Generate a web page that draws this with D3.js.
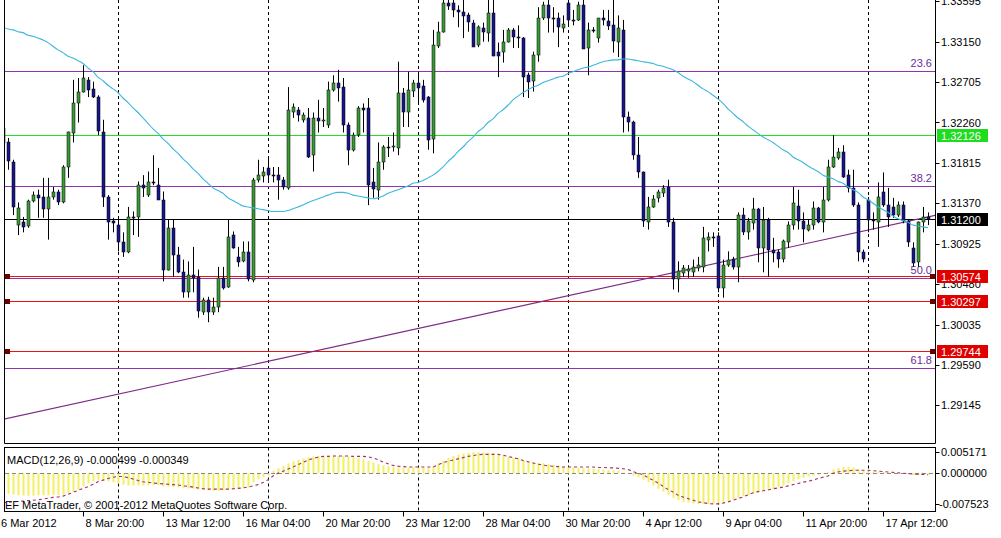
<!DOCTYPE html>
<html><head><meta charset="utf-8">
<script src="https://cdn.jsdelivr.net/npm/d3@7"></script>
<style>html,body{margin:0;padding:0;background:#fff;overflow:hidden}svg{display:block;font-family:"Liberation Sans",Arial,sans-serif}</style>
</head><body><svg id="c" width="1001" height="538"></svg>
<script>
// ---------- DATA (EURUSD H4) ----------
const barOpen = [
1.3220,1.3204,1.3183,1.3113,1.3116,1.3111,1.3139,1.3146,1.3144,1.3131,
1.3143,1.3149,1.3138,1.3176,1.3215,1.3248,1.3260,1.3273,1.3263,1.3254,
1.3216,1.3144,1.3117,1.3113,1.3094,1.3083,1.3122,1.3122,1.3157,1.3146,
1.3160,1.3157,1.3141,1.3064,1.3110,1.3080,1.3061,1.3039,1.3058,1.3056,
1.3018,1.3031,1.3017,1.3023,1.3055,1.3045,1.3102,1.3078,1.3073,1.3083,
1.3053,1.3163,1.3168,1.3176,1.3168,1.3168,1.3163,1.3154,1.3237,1.3240,
1.3229,1.3231,1.3190,1.3231,1.3228,1.3223,1.3262,1.3269,1.3265,1.3223,
1.3196,1.3212,1.3242,1.3242,1.3160,1.3152,1.3183,1.3199,1.3199,1.3198,
1.3259,1.3238,1.3261,1.3270,1.3266,1.3254,1.3207,1.3311,1.3326,1.3358,
1.3358,1.3350,1.3348,1.3344,1.3336,1.3311,1.3330,1.3325,1.3347,1.3304,
1.3304,1.3315,1.3328,1.3320,1.3319,1.3278,1.3271,1.3300,1.3341,1.3355,
1.3341,1.3341,1.3331,1.3358,1.3339,1.3339,1.3355,1.3308,1.3328,1.3319,
1.3341,1.3338,1.3333,1.3315,1.3328,1.3232,1.3226,1.3190,1.3171,1.3117,
1.3133,1.3142,1.3149,1.3155,1.3116,1.3053,1.3061,1.3063,1.3061,1.3066,
1.3067,1.3097,1.3100,1.3101,1.3044,1.3069,1.3076,1.3067,1.3124,1.3105,
1.3116,1.3131,1.3088,1.3119,1.3086,1.3083,1.3075,1.3094,1.3113,1.3134,
1.3117,1.3108,1.3113,1.3132,1.3117,1.3141,1.3177,1.3187,1.3193,1.3168,
1.3154,1.3135,1.3083,1.3141,1.3119,1.3116,1.3149,1.3135,1.3133,1.3124,
1.3135,1.3117,1.3088,1.3072,1.3117,1.3122];
const barHigh = [
1.3223,1.3209,1.3185,1.3138,1.3122,1.3141,1.3150,1.3152,1.3165,1.3165,
1.3155,1.3152,1.3179,1.3216,1.3273,1.3275,1.3289,1.3276,1.3271,1.3256,
1.3229,1.3146,1.3121,1.3122,1.3105,1.3133,1.3128,1.3161,1.3168,1.3172,
1.3190,1.3176,1.3150,1.3119,1.3119,1.3089,1.3075,1.3073,1.3089,1.3064,
1.3033,1.3034,1.3033,1.3067,1.3067,1.3119,1.3106,1.3089,1.3095,1.3095,
1.3165,1.3185,1.3177,1.3187,1.3177,1.3177,1.3166,1.3265,1.3247,1.3243,
1.3237,1.3242,1.3237,1.3251,1.3242,1.3271,1.3278,1.3284,1.3275,1.3226,
1.3215,1.3244,1.3247,1.3253,1.3176,1.3204,1.3201,1.3210,1.3215,1.3293,
1.3264,1.3282,1.3273,1.3282,1.3273,1.3255,1.3328,1.3337,1.3361,1.3361,
1.3361,1.3355,1.3361,1.3347,1.3339,1.3333,1.3336,1.3361,1.3361,1.3314,
1.3328,1.3330,1.3330,1.3333,1.3320,1.3281,1.3304,1.3353,1.3359,1.3361,
1.3353,1.3347,1.3344,1.3361,1.3350,1.3359,1.3361,1.3336,1.3331,1.3341,
1.3350,1.3350,1.3361,1.3344,1.3339,1.3238,1.3228,1.3210,1.3172,1.3144,
1.3146,1.3152,1.3157,1.3163,1.3121,1.3073,1.3069,1.3069,1.3075,1.3078,
1.3111,1.3105,1.3105,1.3105,1.3075,1.3084,1.3078,1.3127,1.3132,1.3121,
1.3143,1.3132,1.3133,1.3121,1.3099,1.3086,1.3097,1.3117,1.3155,1.3152,
1.3127,1.3119,1.3139,1.3133,1.3155,1.3185,1.3212,1.3198,1.3201,1.3174,
1.3174,1.3138,1.3086,1.3144,1.3127,1.3160,1.3171,1.3154,1.3143,1.3139,
1.3139,1.3119,1.3094,1.3117,1.3133,1.3127];
const barLow = [
1.3201,1.3174,1.3124,1.3102,1.3105,1.3110,1.3138,1.3121,1.3121,1.3097,
1.3141,1.3135,1.3137,1.3165,1.3204,1.3226,1.3259,1.3254,1.3253,1.3212,
1.3133,1.3097,1.3105,1.3084,1.3078,1.3082,1.3102,1.3100,1.3144,1.3144,
1.3157,1.3141,1.3051,1.3063,1.3056,1.3060,1.3033,1.3033,1.3039,1.3011,
1.3014,1.3006,1.3014,1.3017,1.3042,1.3044,1.3087,1.3067,1.3072,1.3051,
1.3050,1.3160,1.3160,1.3160,1.3160,1.3141,1.3152,1.3152,1.3231,1.3227,
1.3226,1.3187,1.3172,1.3215,1.3221,1.3220,1.3260,1.3249,1.3215,1.3179,
1.3194,1.3210,1.3215,1.3135,1.3143,1.3141,1.3174,1.3188,1.3194,1.3190,
1.3221,1.3221,1.3254,1.3248,1.3248,1.3196,1.3192,1.3308,1.3325,1.3350,
1.3342,1.3331,1.3319,1.3326,1.3310,1.3309,1.3315,1.3315,1.3299,1.3276,
1.3292,1.3314,1.3308,1.3308,1.3254,1.3253,1.3260,1.3293,1.3339,1.3325,
1.3325,1.3309,1.3325,1.3333,1.3333,1.3338,1.3307,1.3278,1.3325,1.3314,
1.3333,1.3328,1.3303,1.3298,1.3215,1.3216,1.3185,1.3165,1.3111,1.3108,
1.3132,1.3138,1.3144,1.3111,1.3042,1.3039,1.3056,1.3055,1.3056,1.3062,
1.3061,1.3084,1.3089,1.3039,1.3033,1.3067,1.3064,1.3050,1.3102,1.3097,
1.3108,1.3072,1.3061,1.3056,1.3072,1.3066,1.3072,1.3088,1.3108,1.3108,
1.3094,1.3106,1.3108,1.3115,1.3105,1.3139,1.3176,1.3185,1.3165,1.3149,
1.3133,1.3073,1.3072,1.3105,1.3108,1.3089,1.3133,1.3111,1.3121,1.3122,
1.3115,1.3089,1.3067,1.3067,1.3105,1.3113];
const barClose = [
1.3204,1.3183,1.3133,1.3132,1.3111,1.3139,1.3146,1.3143,1.3131,1.3144,
1.3149,1.3138,1.3177,1.3215,1.3248,1.3260,1.3275,1.3262,1.3254,1.3216,
1.3144,1.3117,1.3115,1.3094,1.3083,1.3122,1.3121,1.3157,1.3154,1.3160,
1.3159,1.3141,1.3064,1.3110,1.3080,1.3061,1.3039,1.3058,1.3055,1.3018,
1.3031,1.3018,1.3023,1.3055,1.3044,1.3100,1.3088,1.3073,1.3083,1.3053,
1.3163,1.3168,1.3172,1.3168,1.3167,1.3163,1.3155,1.3240,1.3243,1.3234,
1.3234,1.3188,1.3231,1.3228,1.3229,1.3262,1.3270,1.3264,1.3223,1.3196,
1.3212,1.3242,1.3240,1.3157,1.3152,1.3183,1.3199,1.3198,1.3200,1.3259,
1.3238,1.3262,1.3270,1.3265,1.3251,1.3207,1.3311,1.3326,1.3358,1.3355,
1.3350,1.3348,1.3344,1.3336,1.3310,1.3331,1.3326,1.3347,1.3300,1.3300,
1.3315,1.3328,1.3320,1.3319,1.3276,1.3270,1.3300,1.3341,1.3355,1.3341,
1.3340,1.3331,1.3335,1.3339,1.3338,1.3355,1.3307,1.3328,1.3327,1.3341,
1.3339,1.3333,1.3315,1.3330,1.3232,1.3226,1.3190,1.3171,1.3117,1.3133,
1.3142,1.3149,1.3154,1.3116,1.3053,1.3062,1.3066,1.3065,1.3067,1.3069,
1.3099,1.3100,1.3099,1.3044,1.3069,1.3075,1.3067,1.3124,1.3105,1.3117,
1.3131,1.3088,1.3119,1.3086,1.3083,1.3075,1.3095,1.3113,1.3137,1.3117,
1.3108,1.3113,1.3132,1.3117,1.3141,1.3177,1.3188,1.3194,1.3166,1.3154,
1.3135,1.3083,1.3075,1.3119,1.3118,1.3144,1.3135,1.3122,1.3124,1.3135,
1.3117,1.3094,1.3072,1.3116,1.3122,1.3120];
const maValues = [
1.3331,1.3329,1.3328,1.3326,1.3325,1.3322,1.3321,1.3319,1.3317,1.3314,
1.3310,1.3306,1.3303,1.3299,1.3297,1.3294,1.3291,1.3286,1.3282,1.3276,
1.3272,1.3267,1.3263,1.3259,1.3253,1.3248,1.3242,1.3237,1.3231,1.3225,
1.3219,1.3214,1.3208,1.3203,1.3197,1.3192,1.3186,1.3181,1.3175,1.3170,
1.3164,1.3159,1.3154,1.3151,1.3148,1.3143,1.3140,1.3137,1.3134,1.3133,
1.3132,1.3131,1.3130,1.3129,1.3128,1.3128,1.3128,1.3129,1.3131,1.3133,
1.3135,1.3138,1.3140,1.3142,1.3144,1.3146,1.3148,1.3149,1.3149,1.3148,
1.3146,1.3145,1.3144,1.3143,1.3142,1.3143,1.3145,1.3148,1.3150,1.3152,
1.3154,1.3156,1.3159,1.3160,1.3162,1.3165,1.3168,1.3172,1.3177,1.3183,
1.3188,1.3194,1.3199,1.3205,1.3210,1.3216,1.3220,1.3226,1.3230,1.3236,
1.3240,1.3245,1.3251,1.3255,1.3259,1.3262,1.3265,1.3267,1.3270,1.3272,
1.3274,1.3276,1.3277,1.3280,1.3282,1.3284,1.3286,1.3287,1.3289,1.3291,
1.3293,1.3294,1.3295,1.3295,1.3296,1.3296,1.3295,1.3294,1.3293,1.3292,
1.3291,1.3289,1.3288,1.3286,1.3284,1.3281,1.3277,1.3274,1.3271,1.3267,
1.3263,1.3260,1.3256,1.3252,1.3247,1.3241,1.3236,1.3231,1.3227,1.3222,
1.3218,1.3214,1.3210,1.3207,1.3204,1.3200,1.3196,1.3193,1.3188,1.3185,
1.3182,1.3178,1.3175,1.3172,1.3168,1.3166,1.3164,1.3161,1.3159,1.3155,
1.3152,1.3149,1.3144,1.3141,1.3137,1.3133,1.3130,1.3127,1.3123,1.3120,
1.3118,1.3116,1.3113,1.3112,1.3111,1.3110];
const macdMain = [
-0.0048,-0.0050,-0.0052,-0.0054,-0.0055,-0.0055,-0.0055,-0.0054,-0.0054,-0.0054,
-0.0053,-0.0053,-0.0052,-0.0050,-0.0046,-0.0040,-0.0032,-0.0025,-0.0020,-0.0018,
-0.0018,-0.0020,-0.0022,-0.0025,-0.0028,-0.0030,-0.0030,-0.0030,-0.0030,-0.0030,
-0.0029,-0.0029,-0.0032,-0.0033,-0.0034,-0.0035,-0.0036,-0.0037,-0.0038,-0.0040,
-0.0041,-0.0042,-0.0043,-0.0043,-0.0042,-0.0040,-0.0038,-0.0037,-0.0036,-0.0035,
-0.0022,-0.0015,-0.0010,-0.0004,0.0006,0.0012,0.0018,0.0024,0.0029,0.0033,
0.0036,0.0039,0.0041,0.0042,0.0042,0.0043,0.0043,0.0042,0.0042,0.0041,
0.0039,0.0037,0.0034,0.0030,0.0026,0.0022,0.0019,0.0017,0.0015,0.0014,
0.0013,0.0013,0.0014,0.0014,0.0013,0.0012,0.0017,0.0024,0.0031,0.0037,
0.0042,0.0045,0.0048,0.0050,0.0051,0.005171,0.0051,0.0050,0.0049,0.0046,
0.0043,0.0040,0.0037,0.0035,0.0031,0.0028,0.0026,0.0025,0.0024,0.0022,
0.0020,0.0018,0.0016,0.0015,0.0014,0.0013,0.0012,0.0011,0.0010,0.0010,
0.0009,0.0008,0.0007,0.0006,0.0002,-0.0002,-0.0006,-0.0010,-0.0016,-0.0022,
-0.0030,-0.0038,-0.0045,-0.0052,-0.0060,-0.0066,-0.0070,-0.0072,-0.0074,-0.0075,
-0.007523,-0.0075,-0.0074,-0.0073,-0.0071,-0.0068,-0.0064,-0.0060,-0.0056,-0.0053,
-0.0050,-0.0047,-0.0044,-0.0041,-0.0038,-0.0034,-0.0030,-0.0025,-0.0020,-0.0015,
-0.0011,-0.0008,-0.0006,-0.0004,-0.0002,0.0003,0.0009,0.0013,0.0015,0.0015,
0.0014,0.0010,0.0006,0.0004,0.0003,0.0004,0.0003,0.0002,0.0001,-0.0001,
-0.0002,-0.0003,-0.0005,-0.0005,-0.0005,-0.000499];
const macdSignal = [
-0.0072,-0.0071,-0.0070,-0.0069,-0.0068,-0.0067,-0.0066,-0.0065,-0.0063,-0.0061,
-0.0059,-0.0058,-0.0056,-0.0052,-0.0047,-0.0042,-0.0037,-0.0033,-0.0027,-0.0021,
-0.0017,-0.0013,-0.0010,-0.0008,-0.0008,-0.0011,-0.0014,-0.0018,-0.0021,-0.0022,
-0.0024,-0.0025,-0.0026,-0.0027,-0.0028,-0.0029,-0.0031,-0.0032,-0.0034,-0.0036,
-0.0038,-0.0039,-0.0039,-0.0039,-0.0039,-0.0039,-0.0038,-0.0037,-0.0036,-0.0034,
-0.0031,-0.0028,-0.0023,-0.0016,-0.0007,0.0000,0.0005,0.0010,0.0015,0.0021,
0.0026,0.0032,0.0036,0.0039,0.0041,0.0041,0.0042,0.0042,0.0042,0.0042,
0.0041,0.0041,0.0041,0.0040,0.0037,0.0033,0.0027,0.0023,0.0019,0.0017,
0.0016,0.0015,0.0015,0.0015,0.0015,0.0015,0.0015,0.0020,0.0026,0.0029,
0.0032,0.0035,0.0038,0.0041,0.0043,0.0045,0.0046,0.0046,0.0046,0.0046,
0.0044,0.0041,0.0038,0.0035,0.0031,0.0028,0.0025,0.0022,0.0020,0.0018,
0.0017,0.0016,0.0015,0.0015,0.0015,0.0015,0.0015,0.0015,0.0015,0.0014,
0.0014,0.0013,0.0013,0.0012,0.0011,0.0009,0.0004,0.0000,-0.0004,-0.0011,
-0.0017,-0.0024,-0.0032,-0.0040,-0.0046,-0.0054,-0.0058,-0.0062,-0.0066,-0.0070,
-0.0072,-0.0074,-0.0075,-0.0075,-0.0073,-0.0070,-0.0066,-0.0062,-0.0058,-0.0053,
-0.0048,-0.0045,-0.0043,-0.0041,-0.0038,-0.0036,-0.0034,-0.0031,-0.0028,-0.0025,
-0.0022,-0.0020,-0.0017,-0.0013,-0.0010,-0.0007,0.0000,0.0003,0.0005,0.0006,
0.0007,0.0007,0.0007,0.0007,0.0006,0.0005,0.0004,0.0003,0.0002,0.0001,
0.0000,-0.0001,-0.0002,-0.0003,-0.0003,-0.000349];

const priceTicks = [1.33595,1.33150,1.32705,1.32260,1.31815,1.31370,1.30925,1.30480,1.30035,1.29590,1.29145];
const macdTicks = [0.005171,0.000000,-0.007523];
const timeLabels = ["6 Mar 2012","8 Mar 20:00","13 Mar 12:00","16 Mar 04:00","20 Mar 20:00","23 Mar 12:00","28 Mar 04:00","30 Mar 20:00","4 Apr 12:00","9 Apr 04:00","11 Apr 20:00","17 Apr 12:00"];
const timeLabelBars = [0,16,32,48,64,80,96,112,128,144,160,176];
const gridBars = [23,53,83,113,143,173];
const fibNames = ["23.6","38.2","50.0","61.8"];
const fibPrices = [1.3283,1.3156,1.30545,1.2956];
const levelPrices = [1.32126,1.31200,1.30574,1.30297,1.29744];
const levelKinds = ["green","bid","red","red","red"];
const trendBars = [0,185];
const trendPrices = [1.2899,1.3122];
const macdTitle = "MACD(12,26,9) -0.000499 -0.000349";
const copyright = "EF MetaTrader, \u00A9 2001-2012 MetaQuotes Software Corp.";

// ---------- LAYOUT ----------
const svg = d3.select("#c");
const L = 4.5, R = 935.5, MAINB = 443.5, MT = 447.5, MB = 511.5;
const x = d3.scaleLinear().domain([0, 185]).range([3, 928]);
const y = d3.scaleLinear().domain([1.33595, 1.29145]).range([1.3, 405.3]);
const ym = d3.scaleLinear().domain([0.005171, -0.007523]).range([452, 504]);
const C = {bull:"#3a9a35", bear:"#16168a", ma:"#3cb6de", fib:"#9033b0", fibText:"#6c2c98",
  trend:"#7d2a86", green:"#22e022", red:"#e81414", hist:"#f4f060", sig:"#a0306a"};
const FONT = 11;

svg.append("rect").attr("width",1001).attr("height",538).attr("fill","#fff");
const defs = svg.append("defs");
defs.append("clipPath").attr("id","cm").append("rect").attr("x",5).attr("y",0).attr("width",930).attr("height",443);
defs.append("clipPath").attr("id","cd").append("rect").attr("x",5).attr("y",448).attr("width",930).attr("height",63);

const main = svg.append("g").attr("clip-path","url(#cm)");
const px = v => Math.round(v) + 0.5;

// vertical grid
main.append("g").selectAll("line").data(gridBars).join("line")
  .attr("x1",d=>x(d)+0.5).attr("x2",d=>x(d)+0.5).attr("y1",0).attr("y2",MAINB)
  .attr("stroke","#000").attr("stroke-dasharray","3,3");

// fib lines
const fg = main.append("g");
fg.selectAll("line").data(fibPrices).join("line")
  .attr("x1",5).attr("x2",R).attr("y1",d=>px(y(d))).attr("y2",d=>px(y(d)))
  .attr("stroke",C.fib).attr("stroke-width",1);
fg.selectAll("text").data(fibPrices).join("text")
  .attr("x",932).attr("y",d=>y(d)-4).attr("text-anchor","end")
  .attr("font-size",FONT).attr("fill",C.fibText).text((d,i)=>fibNames[i]);

// horizontal levels
main.append("g").selectAll("line").data(levelPrices).join("line")
  .attr("x1",5).attr("x2",R).attr("y1",d=>px(y(d))).attr("y2",d=>px(y(d)))
  .attr("stroke",(d,i)=>levelKinds[i]==="green"?C.green:levelKinds[i]==="red"?C.red:"#000")
  .attr("stroke-width",1);

// trendline (ray extended to the right edge)
const tx0 = x(trendBars[0]), ty0 = y(trendPrices[0]);
const tx1 = x(trendBars[1]), ty1 = y(trendPrices[1]);
const slope = (ty1-ty0)/(tx1-tx0);
main.append("line").attr("x1",tx0).attr("y1",ty0).attr("x2",R).attr("y2",ty0+slope*(R-tx0))
  .attr("stroke",C.trend).attr("stroke-width",1.1);

// candles
const idx = d3.range(barOpen.length);
const cg = main.append("g");
cg.append("g").selectAll("line").data(idx).join("line")
  .attr("x1",i=>x(i)+0.5).attr("x2",i=>x(i)+0.5)
  .attr("y1",i=>y(barHigh[i])).attr("y2",i=>y(barLow[i]))
  .attr("stroke","#000").attr("stroke-width",1);
cg.append("g").selectAll("rect").data(idx.filter(i=>barOpen[i]!==barClose[i])).join("rect")
  .attr("x",i=>x(i)-1).attr("width",3)
  .attr("y",i=>Math.round(y(Math.max(barOpen[i],barClose[i]))))
  .attr("height",i=>Math.max(1,Math.round(Math.abs(y(barOpen[i])-y(barClose[i])))))
  .attr("fill",i=>barClose[i]>barOpen[i]?C.bull:C.bear)
  .attr("stroke","#000").attr("stroke-width",0.5);
cg.append("g").selectAll("line").data(idx.filter(i=>barOpen[i]===barClose[i])).join("line")
  .attr("x1",i=>x(i)-1.5).attr("x2",i=>x(i)+2.5)
  .attr("y1",i=>px(y(barOpen[i]))).attr("y2",i=>px(y(barOpen[i])))
  .attr("stroke","#000");

// moving average
main.append("path").datum(maValues)
  .attr("d",d3.line().x((d,i)=>x(i)).y(d=>y(d)).curve(d3.curveMonotoneX))
  .attr("fill","none").attr("stroke",C.ma).attr("stroke-width",1.1);

// red level markers
const redIdx = levelKinds.map((k,i)=>k==="red"?i:-1).filter(i=>i>=0);
svg.append("g").selectAll("rect").data(redIdx.flatMap(i=>[[5,levelPrices[i]],[930,levelPrices[i]]])).join("rect")
  .attr("x",d=>d[0]).attr("y",d=>Math.round(y(d[1]))-2).attr("width",5).attr("height",5)
  .attr("fill","#6a0000");

// frames
const fr = svg.append("g").attr("stroke","#000").attr("stroke-width",1).attr("fill","none");
fr.append("path").attr("d",`M${L},0V${MAINB}H${R}V0`);
fr.append("rect").attr("x",L).attr("y",MT).attr("width",R-L).attr("height",MB-MT);

// price axis
const ax = svg.append("g");
ax.selectAll("line").data(priceTicks).join("line")
  .attr("x1",R).attr("x2",R+4).attr("y1",d=>px(y(d))).attr("y2",d=>px(y(d))).attr("stroke","#000");
ax.selectAll("text").data(priceTicks).join("text")
  .attr("x",941).attr("y",d=>y(d)+4).attr("font-size",FONT).attr("fill","#000")
  .text(d=>d3.format(".5f")(d));

// level boxes
const bx = svg.append("g");
levelPrices.forEach((v,i)=>{
  const yy = y(v);
  const fill = levelKinds[i]==="green"?"#1fdc1f":levelKinds[i]==="red"?"#e00000":"#000";
  bx.append("rect").attr("x",937).attr("y",Math.round(yy)-6).attr("width",51).attr("height",13).attr("fill",fill);
  bx.append("text").attr("x",941).attr("y",Math.round(yy)+4.5).attr("font-size",FONT).attr("fill","#fff")
    .text(d3.format(".5f")(v));
});

// ---------- MACD ----------
const md = svg.append("g").attr("clip-path","url(#cd)");
md.append("g").selectAll("line").data(gridBars).join("line")
  .attr("x1",d=>x(d)+0.5).attr("x2",d=>x(d)+0.5).attr("y1",MT).attr("y2",MB)
  .attr("stroke","#000").attr("stroke-dasharray","3,3");
md.append("g").selectAll("rect").data(macdMain).join("rect")
  .attr("x",(d,i)=>x(i)-0.5).attr("width",2)
  .attr("y",d=>Math.min(ym(d),ym(0))).attr("height",d=>Math.abs(ym(d)-ym(0)))
  .attr("fill",C.hist);
md.append("line").attr("x1",5).attr("x2",R).attr("y1",px(ym(0))).attr("y2",px(ym(0)))
  .attr("stroke","#888").attr("stroke-dasharray","4,3");
md.append("path").datum(macdSignal)
  .attr("d",d3.line().x((d,i)=>x(i)).y(d=>ym(d)))
  .attr("fill","none").attr("stroke",C.sig).attr("stroke-width",1.1).attr("stroke-dasharray","3,3");
svg.append("text").attr("x",7).attr("y",464).attr("font-size",FONT).attr("fill","#000").text(macdTitle);
svg.append("text").attr("x",5).attr("y",508.5).attr("font-size",FONT).attr("fill","#000").text(copyright);

const mx = svg.append("g");
mx.selectAll("line").data(macdTicks).join("line")
  .attr("x1",R).attr("x2",R+4).attr("y1",d=>px(ym(d))).attr("y2",d=>px(ym(d))).attr("stroke","#000");
mx.selectAll("text").data(macdTicks).join("text")
  .attr("x",d=>d<0?939:941).attr("y",d=>ym(d)+4).attr("font-size",FONT).attr("fill","#000")
  .text(d=>d3.format(".6f")(d).replace("\u2212","-"));

// ---------- TIME AXIS ----------
const tg = svg.append("g");
tg.selectAll("line").data(timeLabelBars.slice(1)).join("line")
  .attr("x1",d=>x(d)+0.5).attr("x2",d=>x(d)+0.5).attr("y1",MB).attr("y2",MB+5).attr("stroke","#000");
tg.selectAll("text").data(timeLabels).join("text")
  .attr("x",(d,i)=>i===0?1:x(timeLabelBars[i])+2.5).attr("y",527)
  .attr("font-size",FONT).attr("fill","#000").text(d=>d);
</script></body></html>
